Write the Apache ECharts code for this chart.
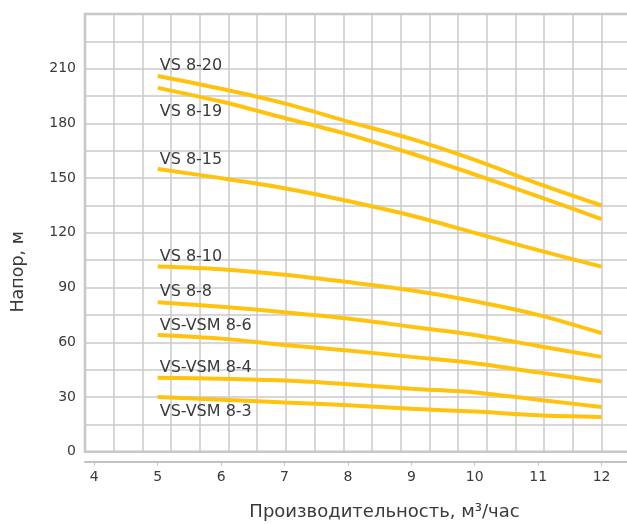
<!DOCTYPE html>
<html><head><meta charset="utf-8">
<script src="https://cdn.jsdelivr.net/npm/echarts@6/dist/echarts.min.js"></script>
<style>html,body{margin:0;padding:0;background:#fff}#c{width:627px;height:524px}</style>
</head><body><div id="c"></div>
<script>
// ---- data ----
var flowX = [5, 6, 7, 8, 9, 10, 11, 12];
var xTicks = [4, 5, 6, 7, 8, 9, 10, 11, 12];
var seriesNames = ['VS 8-20', 'VS 8-19', 'VS 8-15', 'VS 8-10', 'VS 8-8', 'VS-VSM 8-6', 'VS-VSM 8-4', 'VS-VSM 8-3'];
var vs820 = [206, 199, 191, 181, 171.5, 160, 147, 135];
var vs819 = [199.5, 192, 183, 174, 163.5, 152, 140, 127.5];
var vs815 = [155, 150, 144.5, 137.5, 129.5, 120, 110.5, 101.5];
var vs810 = [101.5, 100, 97, 93, 88.5, 82.5, 75, 65];
var vs88 = [82, 79.5, 76.5, 73, 68.5, 64, 58, 52];
var vsm86 = [64, 62, 58.5, 55.5, 52, 48.5, 43.5, 38.5];
var vsm84 = [40.5, 40, 39, 37, 34.5, 32.5, 28.5, 24.5];
var vsm83 = [30, 28.5, 27, 25.5, 23.5, 22, 20, 19];
var allValues = [vs820, vs819, vs815, vs810, vs88, vsm86, vsm84, vsm83];

// ---- style (label placement relative to first point) ----
var labelDy = [-10, 24, -9.5, -10, -10, -9, -10, 14.5];
var FONT = 'DejaVu Sans';
var TXT = '#3a3a3a';
var GRIDC = '#cacaca';

var series = allValues.map(function (vals, si) {
  return {
    type: 'line',
    name: seriesNames[si],
    xAxisIndex: 0,
    yAxisIndex: 0,
    smooth: 0.3,
    symbol: 'circle',
    symbolSize: 0,
    showSymbol: true,
    lineStyle: { color: '#FFC20F', width: 4 },
    itemStyle: { color: '#FFC20F' },
    emphasis: { disabled: true },
    data: vals.map(function (v, i) {
      var item = { value: [flowX[i], v] };
      if (i === 0) {
        item.label = {
          show: true,
          formatter: seriesNames[si],
          position: 'inside',
          align: 'left',
          verticalAlign: 'middle',
          offset: [2, labelDy[si]],
          fontFamily: FONT,
          fontSize: 16,
          color: TXT
        };
      }
      return item;
    })
  };
});
series.push({ type: 'line', xAxisIndex: 1, yAxisIndex: 0, data: [], silent: true });

var chart = echarts.init(document.getElementById('c'));
chart.setOption({
  animation: false,
  grid: {
    left: 85, top: 14, right: -20, bottom: 72.3,
    outerBoundsMode: 'none', containLabel: false,
    show: true, borderColor: '#c2c2c2', borderWidth: 2.5, backgroundColor: 'transparent'
  },
  xAxis: [
    {
      type: 'value', min: 3.853, max: 12.717, position: 'bottom', offset: 10,
      axisLine: { show: true, onZero: false, lineStyle: { color: '#c2c2c2', width: 2 } },
      axisTick: { show: true, customValues: xTicks, length: 4, lineStyle: { color: '#c2c2c2' } },
      axisLabel: { customValues: xTicks, margin: 9, fontFamily: FONT, fontSize: 14, color: TXT },
      splitLine: { show: false },
      name: 'Производительность, м³/час', nameLocation: 'middle', nameGap: 42,
      nameTextStyle: { fontFamily: FONT, fontSize: 18, color: TXT, padding: [0, 0, 0, 37] }
    },
    {
      type: 'value', min: 0, max: 19.58, interval: 1, position: 'bottom',
      axisLine: { show: false }, axisTick: { show: false }, axisLabel: { show: false },
      splitLine: { show: true, lineStyle: { color: GRIDC, width: 1.5 } }
    }
  ],
  yAxis: [{
    type: 'value', min: 0, max: 240, interval: 15,
    axisLine: { show: false }, axisTick: { show: false },
    axisLabel: {
      margin: 9, fontFamily: FONT, fontSize: 14, color: TXT,
      formatter: function (v) { return (v % 30 === 0 && v < 240) ? String(v) : ''; }
    },
    splitLine: { show: true, lineStyle: { color: GRIDC, width: 1.5 } },
    name: 'Напор, м', nameLocation: 'middle', nameGap: 58,
    nameTextStyle: { fontFamily: FONT, fontSize: 17.5, color: TXT, padding: [0, 78, 0, 0] }
  }],
  series: series
});
</script>
</body></html>
